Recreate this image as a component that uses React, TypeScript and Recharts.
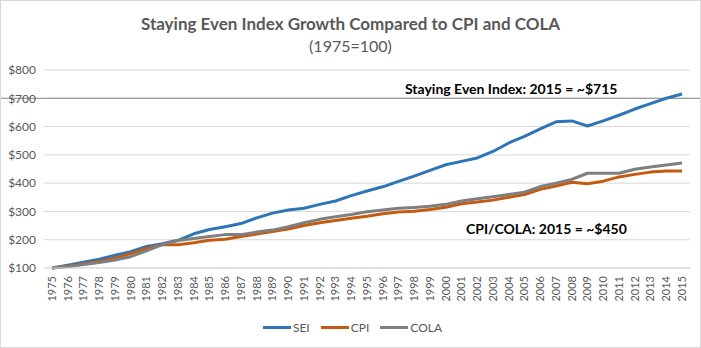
import React from "react"
import { LineChart, Line, XAxis, YAxis, CartesianGrid, ReferenceLine, Legend } from "recharts"

const years = [
  "1975", "1976", "1977", "1978", "1979", "1980", "1981", "1982", "1983", "1984",
  "1985", "1986", "1987", "1988", "1989", "1990", "1991", "1992", "1993", "1994",
  "1995", "1996", "1997", "1998", "1999", "2000", "2001", "2002", "2003", "2004",
  "2005", "2006", "2007", "2008", "2009", "2010", "2011", "2012", "2013", "2014", "2015",
]

const sei = [
  100, 110, 120, 131, 145, 158, 176, 186, 198, 221,
  236, 246, 257, 277, 294, 305, 311, 325, 337, 356,
  372, 387, 406, 425, 445, 465, 477, 489, 512, 542,
  565, 592, 617, 620, 602, 620, 640, 662, 681, 700, 715,
]

const cpi = [
  100, 106, 114, 123, 135, 151, 169, 182, 182, 189,
  198, 202, 211, 220, 229, 238, 250, 260, 268, 276,
  283, 292, 298, 301, 307, 315, 327, 333, 340, 350,
  360, 378, 390, 403, 398, 407, 422, 431, 439, 443, 443,
]

const cola = [
  100, 105, 112, 119, 128, 140, 161, 183, 197, 204,
  211, 218, 218, 227, 234, 246, 260, 272, 281, 289,
  299, 305, 311, 314, 318, 325, 337, 345, 352, 360,
  368, 388, 400, 413, 435, 435, 435, 449, 457, 464, 471,
]

const yTicks = [100, 200, 300, 400, 500, 600, 700, 800]

const seriesInfo = [
  { key: "SEI", color: "#2E75B6" },
  { key: "CPI", color: "#C55A11" },
  { key: "COLA", color: "#7F7F7F" },
]

const FONT = "Lato, 'Open Sans', sans-serif"

const chartData = years.map((year, i) => ({
  year,
  SEI: sei[i],
  CPI: cpi[i],
  COLA: cola[i],
}))

function YearTick({ x, y, payload }: any) {
  return (
    <g transform={`translate(${x},${y})`}>
      <text
        transform="rotate(-90)"
        x={0}
        y={0}
        dy="0.35em"
        textAnchor="end"
        fill="#595959"
        fontSize={11}
        fontFamily={FONT}
      >
        {payload.value}
      </text>
    </g>
  )
}

function LegendContent() {
  return (
    <div style={{ display: "flex", justifyContent: "center", fontFamily: FONT, fontSize: 12, color: "#595959", height: 16, alignItems: "center", paddingLeft: 14 }}>
      {seriesInfo.map((s, i) => (
        <div key={s.key} style={{ display: "flex", alignItems: "center", marginRight: i < seriesInfo.length - 1 ? 11 : 0 }}>
          <span style={{ display: "inline-block", width: 28, height: 3, background: s.color, marginRight: 2 }} />
          <span>{s.key}</span>
        </div>
      ))}
    </div>
  )
}

// line drawn across the whole chart frame at $700
function FullWidthLine(props: any) {
  return <line x1={0} x2={701} y1={props.y1} y2={props.y2} stroke="#868686" strokeWidth={1} />
}

export default function App() {
  return (
    <div
      style={{
        position: "absolute",
        left: 0,
        top: 0,
        width: 701,
        height: 348,
        background: "#fff",
        border: "1px solid #d9d9d9",
        boxSizing: "border-box",
        fontFamily: FONT,
      }}
    >
      <div style={{ position: "absolute", top: 12, width: "100%", textAlign: "center", fontSize: 17, fontWeight: 700, color: "#595959" }}>
        Staying Even Index Growth Compared to CPI and COLA
      </div>
      <div style={{ position: "absolute", top: 35, width: "100%", textAlign: "center", fontSize: 16, color: "#595959" }}>
        (1975=100)
      </div>
      <div style={{ position: "absolute", left: 0, top: 0 }}>
        <LineChart width={699} height={346} data={chartData} margin={{ top: 69, right: 10, bottom: 13, left: 0 }}>
          <CartesianGrid vertical={false} stroke="#d9d9d9" />
          <XAxis
            dataKey="year"
            interval={0}
            height={50}
            tickLine={false}
            axisLine={{ stroke: "#d9d9d9" }}
            padding={{ left: 8, right: 8 }}
            tick={<YearTick />}
            tickSize={6}
            tickMargin={2}
          />
          <YAxis
            domain={[100, 800]}
            ticks={yTicks}
            width={43}
            tickLine={false}
            axisLine={false}
            tickMargin={2}
            tickFormatter={(v) => `$${v}`}
            tick={{ fill: "#595959", fontSize: 12, fontFamily: FONT }}
          />
          <ReferenceLine y={700} shape={<FullWidthLine />} />
          <Legend content={<LegendContent />} verticalAlign="bottom" wrapperStyle={{ bottom: 12 }} />
          {seriesInfo.map((s) => (
            <Line
              key={s.key}
              type="linear"
              dataKey={s.key}
              stroke={s.color}
              strokeWidth={3}
              strokeLinejoin="round"
              dot={false}
              isAnimationActive={false}
            />
          ))}
        </LineChart>
      </div>
      <div style={{ position: "absolute", left: 404, top: 79, fontSize: 14, fontWeight: 700, color: "#000" }}>
        Staying Even Index: 2015 = ~$715
      </div>
      <div style={{ position: "absolute", left: 465, top: 219, fontSize: 14, fontWeight: 700, color: "#000" }}>
        CPI/COLA: 2015 = ~$450
      </div>
    </div>
  )
}
